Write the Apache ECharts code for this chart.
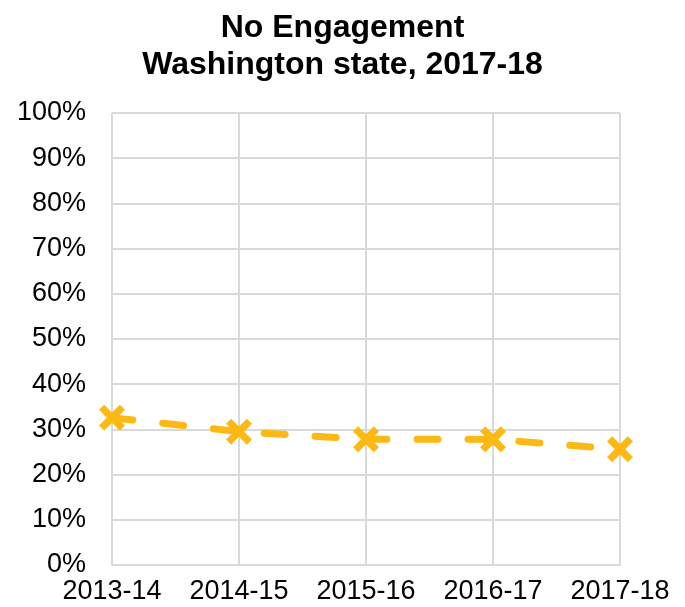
<!DOCTYPE html>
<html>
<head>
<meta charset="utf-8">
<script src="https://cdn.jsdelivr.net/npm/echarts@6/dist/echarts.min.js"></script>
<style>
  html, body { margin: 0; padding: 0; background: #fff; }
  #chart { width: 685px; height: 607px; }
</style>
</head>
<body>
<div id="chart"></div>
<script>
// School years and share of students with no engagement (%)
const years = ['2013-14', '2014-15', '2015-16', '2016-17', '2017-18'];
const noEngagement = [32.6, 29.5, 27.8, 27.8, 25.6];
const titleLines = ['No Engagement', 'Washington state, 2017-18'];

// Thick "X" marker as a filled outline
const crossPath = 'path://M0.2,0 L0.5,0.3 L0.8,0 L1,0.2 L0.7,0.5 L1,0.8 L0.8,1 L0.5,0.7 L0.2,1 L0,0.8 L0.3,0.5 L0,0.2 Z';

const chart = echarts.init(document.getElementById('chart'));
chart.setOption({
  backgroundColor: '#ffffff',
  animation: false,
  title: {
    text: titleLines.join('\n'),
    left: 'center',
    top: 5,
    textStyle: {
      fontFamily: 'Liberation Sans, Arial, sans-serif',
      fontWeight: 'bold',
      fontSize: 32,
      lineHeight: 37,
      color: '#000'
    }
  },
  grid: { left: 112, right: 65, top: 113, bottom: 42 },
  xAxis: {
    type: 'category',
    data: years,
    boundaryGap: false,
    axisLine: { show: true, lineStyle: { color: '#d9d9d9', width: 2 } },
    axisTick: { show: false },
    splitLine: { show: true, interval: 0, lineStyle: { color: '#d9d9d9', width: 2 } },
    axisLabel: {
      interval: 0,
      margin: 13,
      fontFamily: 'Liberation Sans, Arial, sans-serif',
      fontSize: 27,
      color: '#000'
    }
  },
  yAxis: {
    type: 'value',
    min: 0,
    max: 100,
    interval: 10,
    axisLine: { show: false },
    axisTick: { show: false },
    splitLine: { lineStyle: { color: '#d9d9d9', width: 2 } },
    axisLabel: {
      margin: 26,
      formatter: '{value}%',
      fontFamily: 'Liberation Sans, Arial, sans-serif',
      fontSize: 27,
      color: '#000'
    }
  },
  series: [{
    type: 'line',
    data: noEngagement,
    symbol: crossPath,
    symbolSize: 26,
    itemStyle: { color: '#FDB913' },
    lineStyle: {
      color: '#FDB913',
      width: 7,
      type: [21, 30],
      cap: 'round'
    },
    z: 3
  }]
});
</script>
</body>
</html>
